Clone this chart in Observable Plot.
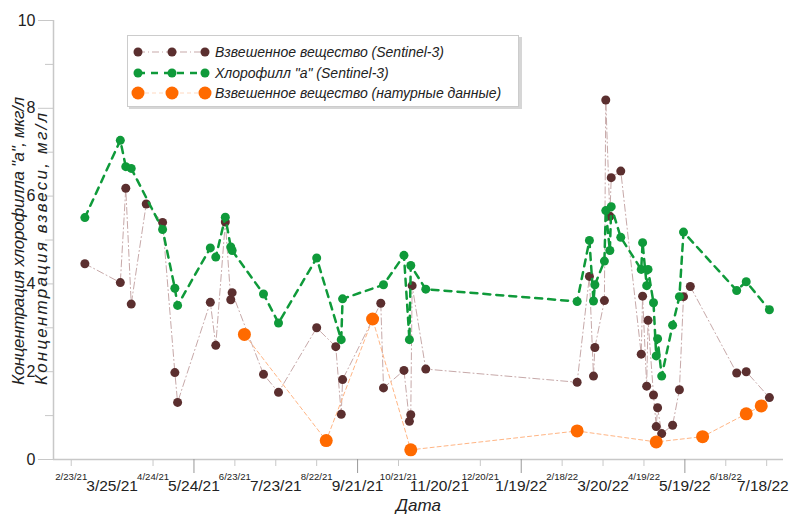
<!DOCTYPE html>
<html><head><meta charset="utf-8">
<script src="https://cdn.jsdelivr.net/npm/d3@7"></script>
<script src="https://cdn.jsdelivr.net/npm/@observablehq/plot@0.6"></script>
<style>
body{margin:0;background:#fff;font-family:Arial,"Liberation Sans",sans-serif}
#wrap{position:relative;width:791px;height:515px;overflow:hidden}
#wrap svg{position:absolute;left:0;top:0}
</style></head><body><div id="wrap"></div>
<script>
// Взвешенное вещество (Sentinel-3)
const susDates = ["2021-03-05","2021-03-31","2021-04-04","2021-04-08","2021-04-19","2021-05-01","2021-05-10","2021-05-12","2021-06-05","2021-06-09","2021-06-16","2021-06-20","2021-06-21","2021-07-14","2021-07-25","2021-08-22","2021-09-05","2021-09-09","2021-09-10","2021-10-08","2021-10-10","2021-10-25","2021-10-29","2021-10-30","2021-10-31","2021-11-10","2022-03-01","2022-03-10","2022-03-13","2022-03-14","2022-03-21","2022-03-22","2022-03-25","2022-03-26","2022-04-02","2022-04-17","2022-04-18","2022-04-21","2022-04-22","2022-04-26","2022-04-28","2022-04-29","2022-05-02","2022-05-10","2022-05-15","2022-05-18","2022-05-23","2022-06-26","2022-07-03","2022-07-20"];
const susValues = [4.46,4.03,6.18,3.54,5.82,5.40,1.98,1.30,3.58,2.60,5.41,3.64,3.80,1.94,1.53,3.00,2.57,1.03,1.82,3.56,1.63,2.03,0.87,1.02,3.96,2.06,1.76,4.17,1.90,2.55,3.62,8.19,5.54,6.42,6.57,2.40,3.72,1.67,3.17,1.47,0.75,1.18,0.59,0.78,1.59,3.71,3.94,1.97,2.00,1.41];
// Хлорофилл "а" (Sentinel-3)
const chlDates = ["2021-03-05","2021-03-31","2021-04-04","2021-04-08","2021-05-01","2021-05-10","2021-05-12","2021-06-05","2021-06-09","2021-06-16","2021-06-20","2021-06-21","2021-07-14","2021-07-25","2021-08-22","2021-09-09","2021-09-10","2021-10-10","2021-10-25","2021-10-29","2021-10-30","2021-11-10","2022-03-01","2022-03-10","2022-03-13","2022-03-14","2022-03-21","2022-03-22","2022-03-25","2022-03-26","2022-04-02","2022-04-17","2022-04-18","2022-04-21","2022-04-22","2022-04-26","2022-04-28","2022-04-29","2022-05-02","2022-05-10","2022-05-15","2022-05-18","2022-06-26","2022-07-03","2022-07-20"];
const chlValues = [5.51,7.27,6.67,6.63,5.24,3.90,3.51,4.82,4.61,5.52,4.84,4.76,3.77,3.11,4.59,2.73,3.66,3.98,4.65,2.73,4.42,3.88,3.60,4.99,3.61,3.98,4.52,5.67,4.76,5.76,5.06,4.33,4.94,3.96,4.33,3.57,2.36,2.75,1.90,3.06,3.71,5.18,3.85,4.05,3.41];
// Взвешенное вещество (натурные данные)
const fieldDates = ["2021-06-30","2021-08-29","2021-10-02","2021-10-30","2022-03-01","2022-04-28","2022-06-01","2022-07-03","2022-07-14"];
const fieldValues = [2.85,0.43,3.20,0.22,0.65,0.40,0.52,1.04,1.22];

const smallLabelDates = ["2021-02-23","2021-04-24","2021-06-23","2021-08-22","2021-10-21","2021-12-20","2022-02-18","2022-04-19","2022-06-18"];
const bigLabelDates = ["2021-03-25","2021-05-24","2021-07-23","2021-09-21","2021-11-20","2022-01-19","2022-03-20","2022-05-19"];
const lastBigLabelDate = "2022-07-18";
const minorTickDates = ["2021-02-23","2021-04-24","2021-06-23","2021-07-23","2021-08-22","2021-10-21","2021-12-20","2022-02-18","2022-03-20","2022-04-19","2022-06-18","2022-07-18"];
const majorTickDates = ["2021-05-24","2021-09-21","2022-01-19","2022-05-19"];
const yLabelTicks = [0,2,4,6,8,10];
const yMinorTicks = [1,3,5,7,9];

const seriesNames = ["Взвешенное вещество (Sentinel-3)", "Хлорофилл \"а\" (Sentinel-3)", "Взвешенное вещество (натурные данные)"];
const yTitle1 = "Концентрация хлорофилла \"а\", мкг/л";
const yTitle2 = "Концентрация взвеси, мг/л";
const xTitle = "Дата";

const parse = d3.utcParse("%Y-%m-%d");
const fmt = d3.utcFormat("%-m/%-d/%y");
const sus = susDates.map((d,i)=>({date:parse(d), value:susValues[i]}));
const chl = chlDates.map((d,i)=>({date:parse(d), value:chlValues[i]}));
const field = fieldDates.map((d,i)=>({date:parse(d), value:fieldValues[i]}));

const C = {brown:"#5b2f2f", brownLine:"#c7a9a9", green:"#0f9a3a", orange:"#ff6a00", orangeLine:"#ffb584", axis:"#c8c8c8"};
const xDomain = [parse("2021-02-10"), new Date(Date.UTC(2022,6,30,8))];
const font = "Arial, 'Liberation Sans', sans-serif";

const chart = Plot.plot({
  width: 791, height: 515,
  marginLeft: 53, marginRight: 8, marginTop: 20, marginBottom: 56,
  x: {type:"utc", domain: xDomain, label:null},
  y: {domain:[0,10], label:null},
  style: {fontFamily: font, color:"#222", background:"transparent", overflow:"visible"},
  marks: [
    Plot.ruleX([xDomain[0]], {stroke:C.axis, strokeWidth:1.5}),
    Plot.ruleY([0], {stroke:C.axis, strokeWidth:1.5}),
    Plot.axisY(yLabelTicks, {tickSize:15, tickPadding:3, fontSize:16, stroke:C.axis, fill:"#222", label:null}),
    Plot.axisY(yMinorTicks, {tickSize:8, tickFormat:()=>"", stroke:C.axis, label:null}),
    Plot.axisX(minorTickDates.map(parse), {tickSize:7, tickFormat:()=>"", stroke:C.axis, label:null}),
    Plot.axisX(majorTickDates.map(parse), {tickSize:14, tickFormat:()=>"", stroke:"#999", label:null}),
    Plot.text(smallLabelDates.map(parse), {x:d=>d, text:d=>fmt(d), frameAnchor:"bottom", dy:20, fontSize:9.6, fill:"#222"}),
    Plot.text(bigLabelDates.map(parse), {x:d=>d, text:d=>fmt(d), frameAnchor:"bottom", dy:31, fontSize:15.5, fill:"#222"}),
    Plot.text([parse(lastBigLabelDate)], {x:d=>d, text:d=>fmt(d), frameAnchor:"bottom", dy:31, dx:22, textAnchor:"end", fontSize:15.5, fill:"#222"}),
    Plot.text([xTitle], {frameAnchor:"bottom", dy:51, fontSize:17, fontStyle:"italic", fill:"#222"}),
    Plot.text([yTitle1], {frameAnchor:"left", dx:-35, dy:145, rotate:-90, textAnchor:"start", fontSize:17, fontStyle:"italic", fill:"#222"}),
    Plot.text([yTitle2], {frameAnchor:"left", dx:-12, dy:145, rotate:-90, textAnchor:"start", fontSize:17, fontStyle:"italic", fill:"#222"}),
    Plot.line(sus, {x:"date", y:"value", stroke:C.brownLine, strokeWidth:1, strokeDasharray:"7,3,1,3"}),
    Plot.dot(sus, {x:"date", y:"value", r:4.5, fill:C.brown}),
    Plot.line(chl, {x:"date", y:"value", stroke:C.green, strokeWidth:2.5, strokeDasharray:"7,6"}),
    Plot.dot(chl, {x:"date", y:"value", r:4.5, fill:C.green}),
    Plot.line(field, {x:"date", y:"value", stroke:C.orangeLine, strokeWidth:1, strokeDasharray:"4,3"}),
    Plot.dot(field, {x:"date", y:"value", r:6.5, fill:C.orange})
  ]
});
// fit the two axis titles to the extents they have in the reference
d3.select(chart).selectAll("text").each(function(){
  if (this.textContent === yTitle1) { this.setAttribute("textLength", 288); this.setAttribute("lengthAdjust", "spacing"); }
  if (this.textContent === yTitle2) { this.setAttribute("textLength", 272); this.setAttribute("lengthAdjust", "spacing"); }
});
const wrap = document.getElementById("wrap");
wrap.appendChild(chart);

// Legend (inside plot area)
const lg = d3.select(wrap).append("svg").attr("width",400).attr("height",80)
  .style("left","124px").style("top","33px").style("font-family",font);
lg.append("rect").attr("x",5).attr("y",4).attr("width",393).attr("height",72).attr("fill","#bbb").attr("opacity",0.6);
lg.append("rect").attr("x",3.5).attr("y",2.5).attr("width",391).attr("height",71).attr("fill","#fff").attr("stroke","#ccc");
const rows = [
  {y:19, dot:C.brown, r:4.5, line:C.brownLine, lw:1, dash:"7,3,1,3"},
  {y:40, dot:C.green, r:4.5, line:C.green, lw:2.5, dash:"7,6"},
  {y:60, dot:C.orange, r:6.5, line:"#ffd9c0", lw:1, dash:"4,3"}
];
rows.forEach((rw,i)=>{
  lg.append("line").attr("x1",14).attr("x2",81).attr("y1",rw.y).attr("y2",rw.y)
    .attr("stroke",rw.line).attr("stroke-width",rw.lw).attr("stroke-dasharray",rw.dash);
  [14,48,81].forEach(cx=>lg.append("circle").attr("cx",cx).attr("cy",rw.y).attr("r",rw.r).attr("fill",rw.dot));
  lg.append("text").attr("x",91).attr("y",rw.y).attr("dy","0.35em").attr("font-size",14)
    .attr("font-style","italic").attr("fill","#222").text(seriesNames[i]);
});
</script></body></html>
